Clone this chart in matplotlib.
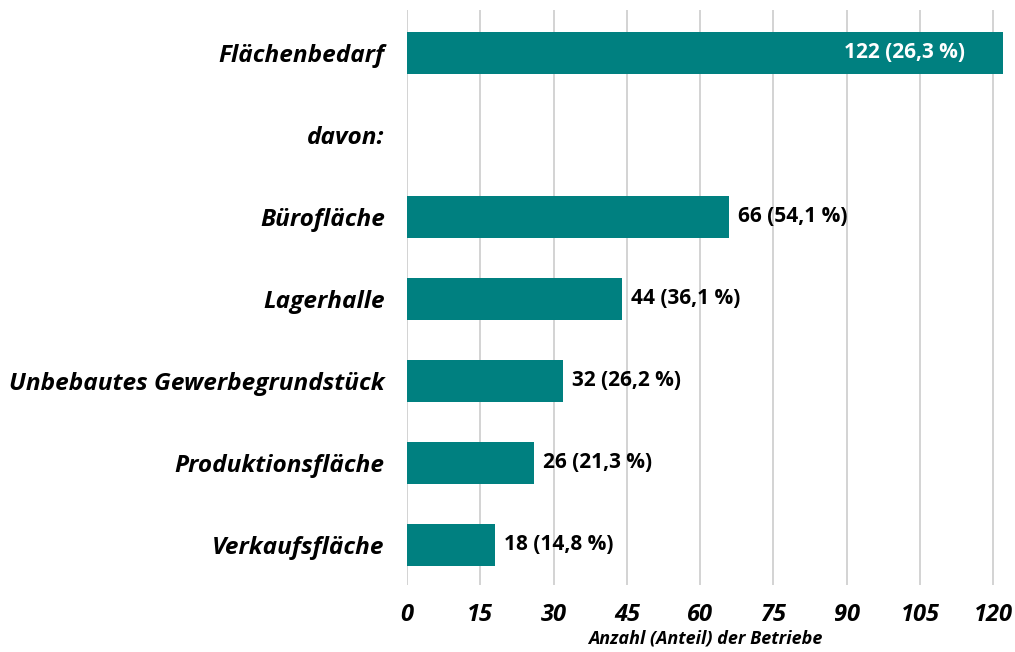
import matplotlib
matplotlib.use("Agg")
import matplotlib.pyplot as plt

# data
categories = ["Flächenbedarf", "davon:", "Bürofläche", "Lagerhalle",
              "Unbebautes Gewerbegrundstück", "Produktionsfläche", "Verkaufsfläche"]
counts = [122, None, 66, 44, 32, 26, 18]
shares = ["26,3", None, "54,1", "36,1", "26,2", "21,3", "14,8"]
xticks = [0, 15, 30, 45, 60, 75, 90, 105, 120]

TEAL = "#008080"
FONT = "Open Sans"

fig = plt.figure(figsize=(10.15, 6.52), dpi=100)
ax = fig.add_axes([407 / 1015, 1 - 585 / 652, 596 / 1015, 575 / 652])

ypos = list(range(len(categories)))
for y, c in zip(ypos, counts):
    if c is None:
        continue
    ax.barh(y, c, height=0.51, color=TEAL, zorder=3)

# value labels
for y, c, s in zip(ypos, counts, shares):
    if c is None:
        continue
    label = f"{c} ({s} %)"
    if c > 100:
        ax.text(c - 7.8, y, label, ha="right", va="center", color="white",
                fontsize=15, fontweight="bold", family=FONT, zorder=4)
    else:
        ax.text(c + 1.8, y, label, ha="left", va="center", color="black",
                fontsize=15, fontweight="bold", family=FONT, zorder=4)

ax.set_xlim(0, 122)
ax.set_ylim(6.49, -0.52)
ax.set_xticks(xticks)
ax.set_xticklabels([str(t) for t in xticks], fontsize=17, fontweight="bold",
                   fontstyle="italic", family=FONT)
ax.set_yticks(ypos)
ax.set_yticklabels(categories, fontsize=17.6, fontweight="bold",
                   fontstyle="italic", family=FONT)
ax.tick_params(axis="both", length=0)
ax.tick_params(axis="x", pad=13)
ax.tick_params(axis="y", pad=16)

ax.grid(True, axis="x", color="#cccccc", linewidth=1.2, zorder=0)
for sp in ax.spines.values():
    sp.set_visible(False)

ax.set_xlabel("Anzahl (Anteil) der Betriebe", fontsize=13, fontweight="bold",
              fontstyle="italic", family=FONT, labelpad=2)

fig.savefig("out.png", dpi=100)
